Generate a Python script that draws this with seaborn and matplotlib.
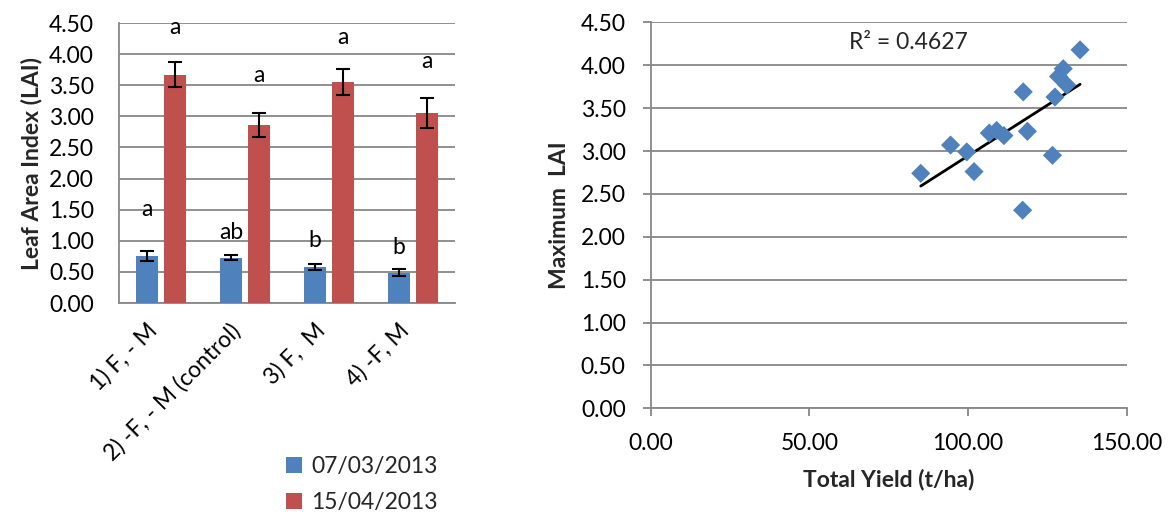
import numpy as np
import pandas as pd
import matplotlib
matplotlib.use("Agg")
import matplotlib.pyplot as plt
from matplotlib.ticker import MultipleLocator, FormatStrFormatter
import seaborn as sns

# ---------------- data ----------------
treatments = ["1) F, - M", "2) -F, - M (control)", "3) F,  M", "4) -F, M"]
dates = ["07/03/2013", "15/04/2013"]
lai_mar = [0.75, 0.73, 0.58, 0.49]
lai_apr = [3.67, 2.86, 3.55, 3.06]
err_mar = [0.08, 0.04, 0.05, 0.06]
err_apr = [0.20, 0.20, 0.21, 0.24]
letters_mar = ["a", "ab", "b", "b"]
letters_apr = ["a", "a", "a", "a"]
letter_y_mar = [1.50, 1.14, 1.01, 0.90]
letter_y_apr = [4.42, 3.66, 4.27, 3.88]

total_yield = [135.3, 130.0, 128.5, 131.1, 127.4, 117.4, 118.7, 106.7,
               109.0, 111.3, 94.5, 99.6, 101.9, 85.1, 126.6, 117.2]
max_lai = [4.18, 3.96, 3.87, 3.77, 3.63, 3.69, 3.23, 3.21,
           3.24, 3.18, 3.07, 2.99, 2.76, 2.74, 2.95, 2.31]
r2_text = "R² = 0.4627"

# ---------------- style ----------------
sns.set_theme(style="white")
plt.rcParams["font.family"] = ["Lato", "DejaVu Sans"]
FS = 16.5
BLUE = "#4F81BD"
RED = "#C0504D"
GRID = "#878787"

fig = plt.figure(figsize=(11.72, 5.17), dpi=100)
ax1 = fig.add_axes([119 / 1172, 1 - 303 / 517, 336 / 1172, 280 / 517])
ax2 = fig.add_axes([650.7 / 1172, 1 - 408.3 / 517, 476 / 1172, 385.9 / 517])

# ---------------- left: bar chart ----------------
df = pd.DataFrame({
    "Treatment": treatments * 2,
    "Date": [dates[0]] * 4 + [dates[1]] * 4,
    "LAI": lai_mar + lai_apr,
})
sns.barplot(data=df, x="Treatment", y="LAI", hue="Date", order=treatments,
            hue_order=dates, palette=[BLUE, RED], width=0.667, gap=0.21,
            errorbar=None, saturation=1, ax=ax1, edgecolor="none", zorder=3)

bars = [p for p in ax1.patches if p.get_height() > 0]
vals = lai_mar + lai_apr
errs = err_mar + err_apr
labs = letters_mar + letters_apr
labys = letter_y_mar + letter_y_apr
for p, v, e, l, ly in zip(bars, vals, errs, labs, labys):
    xc = p.get_x() + p.get_width() / 2
    ax1.errorbar(xc, v, yerr=e, color="black", lw=1.5, capsize=5,
                 capthick=1.5, zorder=4)
    ax1.text(xc, ly, l, ha="center", va="center", fontsize=FS, color="black")

ax1.set_ylim(0, 4.5)
ax1.set_xlim(-0.5, 3.5)
ax1.yaxis.set_major_locator(MultipleLocator(0.5))
ax1.yaxis.set_major_formatter(FormatStrFormatter("%.2f"))
ax1.grid(axis="y", color=GRID, lw=1.3, zorder=0)
ax1.set_axisbelow(True)
for s in ["top", "right"]:
    ax1.spines[s].set_visible(False)
for s in ["left", "bottom"]:
    ax1.spines[s].set_color(GRID)
    ax1.spines[s].set_linewidth(1.3)
ax1.tick_params(axis="y", length=0, pad=18, labelsize=FS, labelcolor="black")
ax1.tick_params(axis="x", length=0, pad=12, labelsize=FS, labelcolor="black")
plt.setp(ax1.get_xticklabels(), rotation=45, ha="right")
ax1.set_xlabel("")
ax1.set_ylabel("Leaf Area Index (LAI)", fontsize=FS, fontweight="bold",
               labelpad=5)
h, l = ax1.get_legend_handles_labels()
ax1.legend(h, l, loc="upper left", bbox_to_anchor=(0.47, -0.515),
           frameon=False, fontsize=FS, handlelength=0.7, handleheight=0.7,
           handletextpad=0.4, labelspacing=0.62, borderaxespad=0)

# ---------------- right: scatter ----------------
sdf = pd.DataFrame({"Total Yield": total_yield, "Max LAI": max_lai})
sns.regplot(data=sdf, x="Total Yield", y="Max LAI", scatter=False, ci=None,
            truncate=True, color="black", line_kws={"lw": 2, "zorder": 3},
            ax=ax2)
sns.scatterplot(data=sdf, x="Total Yield", y="Max LAI", marker="D", s=95,
                color=BLUE, edgecolor="none", ax=ax2, zorder=4)
ax2.text(62.5, 4.27, r2_text, fontsize=FS, ha="left", va="center")

ax2.set_xlim(0, 150)
ax2.set_ylim(0, 4.5)
ax2.xaxis.set_major_locator(MultipleLocator(50))
ax2.yaxis.set_major_locator(MultipleLocator(0.5))
ax2.xaxis.set_major_formatter(FormatStrFormatter("%.2f"))
ax2.yaxis.set_major_formatter(FormatStrFormatter("%.2f"))
ax2.grid(axis="y", color=GRID, lw=1.3, zorder=0)
ax2.set_axisbelow(True)
for s in ["top", "right"]:
    ax2.spines[s].set_visible(False)
for s in ["left", "bottom"]:
    ax2.spines[s].set_color(GRID)
    ax2.spines[s].set_linewidth(1.3)
ax2.tick_params(axis="both", direction="out", length=6, width=1.3,
                color=GRID, labelsize=FS, labelcolor="black", left=True,
                bottom=True)
ax2.tick_params(axis="y", pad=12)
ax2.tick_params(axis="x", pad=12)
ax2.set_xlabel("Total Yield (t/ha)", fontsize=FS, fontweight="bold",
               labelpad=10)
ax2.set_ylabel("Maximum  LAI", fontsize=FS, fontweight="bold", labelpad=8)

fig.savefig("out.png", dpi=100, facecolor="white")
